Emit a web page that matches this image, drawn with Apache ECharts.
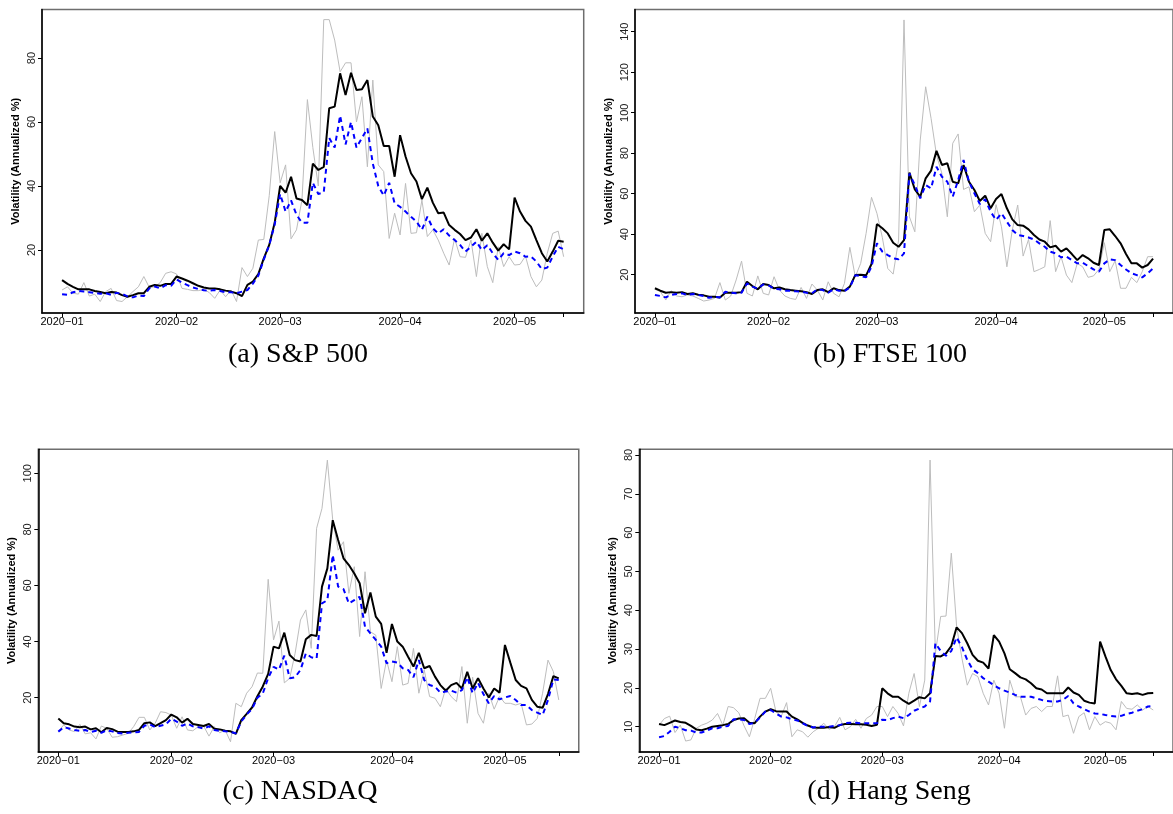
<!DOCTYPE html>
<html>
<head>
<meta charset="utf-8">
<script src="https://cdn.jsdelivr.net/npm/echarts@6/dist/echarts.min.js"></script>
<style>
html,body{margin:0;padding:0;background:#fff;}
#chart{width:1173px;height:814px;}
</style>
</head>
<body>
<div id="chart"></div>
<script>
// ---- month tick labels ----
const monthLabels = ['2020\u221201','2020\u221202','2020\u221203','2020\u221204','2020\u221205'];

// ---- (a) S&P 500 ----
const spMonthIdx = [0,21,40,62,83];
const spLastIdx = 92;
const spGray = [7.5,8.5,6.5,6.2,9.8,5.6,6.2,3.9,7.0,8.0,
 4.2,3.9,5.4,7.0,8.5,11.7,8.3,8.5,9.8,12.7,
 13.2,12.5,8.0,7.7,7.3,7.3,7.7,6.7,4.9,7.5,
 5.4,7.5,3.9,14.5,11.7,14.3,23.1,23.3,37,57,
 41,46.6,23.5,26.3,35.6,67,52,40,92,92,
 85.6,75.7,78.5,78.5,60,67.9,46,73.1,46.6,44.5,
 23.6,31.5,24.7,40.8,25.2,25.4,35.6,24.2,26.3,23.1,
 19,15.3,23.6,17.9,17.7,23.1,11.7,25.2,14.8,9.8,
 21,14.8,17.9,15.3,15.5,18.1,11.7,8.5,10.6,19,
 25.2,25.9,17.9];
const spBlack = [10.6,9.4,8.5,7.7,7.7,7.7,7.2,6.9,6.5,6.9,
 6.7,5.9,5.4,5.9,6.5,6.5,8.5,9.1,8.8,9.4,
 9.4,11.7,11.1,10.4,9.6,8.8,8.3,8.0,8.0,7.7,
 7.3,7.0,6.5,5.6,9.1,10.1,12.5,17.4,21.6,28.5,
 40,37.9,42.9,36.1,35.6,34,47,45,46,64.3,
 64.8,75.2,68.4,75.4,70,70.2,73.1,61.7,59,52.5,
 52.5,42.9,55.9,49.2,44,41.4,35.9,39.5,34.8,31.5,
 31.7,27.8,26.3,25,23.1,23.9,26.5,22.9,25.2,22.3,
 19.8,21.8,20.2,36.4,32,29.1,27.3,23.1,19,16.4,
 19.5,22.9,22.6];
const spBlue = [6.2,6.0,6.8,7.2,7.0,6.8,6.6,6.3,6.5,6.0,
 6.6,6.3,5.5,5.2,5.8,5.6,8.0,8.6,8.0,9.0,
 8.8,10.8,9.8,9.0,8.3,7.8,7.4,7.3,7.5,7.2,
 6.8,6.8,6.5,7.0,7.5,9.5,12.0,17.0,21.5,28,
 37.5,32,35.5,31,28.5,28.5,41,37.5,38,55,
 52,62,53,60,52,55,58,47,40,37,
 41,34.6,33.5,32,30.4,28.9,26.3,30.4,26.8,25.2,
 26.5,24.5,23.1,21.6,19.5,21,22.6,20,21.5,19,
 16.9,19,18.4,19.5,19,17.9,18,16.4,14,14.5,
 18,21,20.2];
const spYTicks = [20,40,60,80];

// ---- (b) FTSE 100 ----
const ftMonthIdx = [0,21,41,63,83];
const ftLastIdx = 92;
const ftGray = [12.8,11.6,7.5,12.1,9.5,9.1,10,9.5,8.3,7,
 7.5,8.3,16.1,7.5,9.5,17.4,26.7,10.8,9.5,19.4,
 10.8,10,19,12.4,9.5,8.3,7.8,13.7,8.3,15.4,
 12.4,7.5,16.5,10.8,9.1,15.7,33.5,19,25.6,40.4,
 58.2,50.3,38.4,23.1,20.3,37.1,145.8,48.6,41.2,86.5,
 112.8,97.2,79.1,70,48.6,84.9,89.5,62.1,63.4,51.1,
 54.4,40.4,36.3,54.6,43.7,23.9,42.1,54.4,29.2,37.4,
 21.5,22.6,23.9,46.7,21.5,28.9,19.8,16.1,25.6,23.9,
 18.7,19.4,22.6,35.8,21.5,26.9,13.3,13.3,18.7,16.1,
 21.5,28.9,28.9];
const ftBlack = [13.3,12.1,11.1,11.4,11.1,11.4,10.5,10.8,10.1,9.8,
 9.1,9.1,8.8,11.1,11.1,11.1,11.4,16.5,14.4,12.8,
 15.4,14.9,13.3,13.7,12.8,12.4,12.1,11.8,11.4,10.5,
 12.4,12.8,11.4,13.3,12.4,12.1,14.1,19.8,20.0,19.7,
 25.3,45,42.9,40.4,35.8,33.8,37.1,70.4,62.1,58.5,
 67.6,71.4,81.2,74.2,75,65.9,65.1,74.2,65.9,61.8,
 56.4,59,52.8,57.4,59.8,52.8,47.3,44.5,44.2,42.4,
 39.6,37.4,36.3,33.5,34.3,31.4,33,30.2,27.2,29.7,
 28.1,25.9,24.8,42.1,42.4,39.1,35.5,30.2,25.6,25.6,
 23.5,24.8,27.9];
const ftBlue = [10,9.5,8.8,10,10.5,10.8,10,10.5,10,9.5,
 8.6,9.1,8.8,11.6,11.1,10.8,11.1,15.7,14.1,13.1,
 15.2,14.7,13.1,12.8,12.1,12.1,11.8,11.6,11.1,10.8,
 12.8,12.4,11.1,12.8,12.1,11.9,13.7,19.7,19.4,18.7,
 24,35.5,31.4,29.7,28.1,27.6,30.5,70,64.3,57.7,
 64.3,62.6,73.3,68.4,65.9,58.5,66.7,76.6,65.9,60.2,
 54.9,57.2,51.1,47,50.3,46.2,42.1,39.6,39.1,38.4,
 37.4,35.5,33.8,31.4,30.5,28.6,28.9,27.2,25.6,25.9,
 24.3,22.6,21.5,25.6,27.6,27.2,24.8,22.6,20.7,19.8,
 18.7,20.7,23.1];
const ftYTicks = [20,40,60,80,100,120,140];

// ---- (c) NASDAQ ----
const ndMonthIdx = [0,21,40,62,83];
const ndLastIdx = 93;
const ndGray = [7.9,10.3,8.5,7.9,10.5,7.1,7.5,5.3,9.9,9.1,
 5.9,6.1,6.7,7.3,9.7,13,13,8.5,10.9,15,
 14.7,13.8,9.1,13.2,8.5,8.2,9.7,9.9,6.3,9.7,
 7.5,8.5,4.3,18,16.8,21.6,23.9,28.8,28.7,62.2,
 40.6,47.3,25.3,26.9,35.8,47.7,51.3,37.6,80.4,87.5,
 104.7,83.3,72.6,75.6,57.2,66.7,41.8,64.9,43.5,42.3,
 23.3,33.4,25.7,38.2,24.5,25.1,37.6,21.6,29.9,20.4,
 19.8,16.8,23.3,20.4,18.6,31.1,10.9,27.3,14.4,10.9,
 21.6,15.9,20.4,18,18,17.4,18,10.3,10.6,12.6,
 21.6,33.4,29.3,19.2];
const ndBlack = [12.6,10.9,10.5,9.7,9.5,9.7,8.7,9.1,7.7,9.2,
 8.8,7.9,7.8,7.8,8,8.5,10.9,11.2,9.9,10.9,
 12,14,13,11.1,12.5,10.6,10.3,9.9,10.6,8.9,
 8.7,8.2,8,7.1,12,14.2,16.5,20.5,24,28.5,
 38.2,37.6,43.2,35.2,33.4,32.9,40.8,42.4,42,59.6,
 66.1,83.3,76.2,69.7,67.3,64.3,60.8,50.1,57.5,48.9,
 46.3,36,46.3,40,38.2,34.6,31.1,36,30.5,31.3,
 27.5,24.5,22.5,24.5,25.3,23.3,29.2,23.3,26.9,23.3,
 20.1,23.3,21.8,38.8,32.5,26.3,24.2,23.3,19.2,16.8,
 16.4,21.3,27.7,26.9];
const ndBlue = [7.9,9.5,9,8.5,8.2,8.5,7.8,8.2,7.5,8.4,
 8,7.4,7.2,7.5,7.6,7.8,10,10.5,9.5,10,
 10.5,12.5,11.5,10,10.8,9.8,9.5,9,9.8,8.5,
 8.2,8,7.8,7.3,11.5,14,16,20,21.5,27,
 31,30,35,26.9,27.3,29.9,35.8,34.4,34,53.6,
 54.8,70.9,59.6,58.7,53.6,54.8,56,45.3,42.9,40.6,
 38.2,32.3,32.9,32.5,30.5,29.9,27.3,33.4,26.3,24.5,
 23.9,21.8,22.2,22.5,21.8,22.7,27.3,21.6,25.3,21.3,
 18,20.6,19.4,20.1,20.6,19.2,17.4,17.4,15.6,14.7,
 13.8,19.2,26.5,26.3];
const ndYTicks = [20,40,60,80,100];

// ---- (d) Hang Seng ----
const hsMonthIdx = [0,21,42,64,84];
const hsLastIdx = 93;
const hsGray = [10.4,12.1,12.7,8.5,10.4,6.3,6.6,9.6,10.4,10.9,
 11.7,13.4,10.4,15.2,14.9,13.6,10.2,7.4,12.1,17.3,
 17.3,19.9,13.9,12.7,16.2,7.4,9.2,8.7,7.3,8.7,
 9.6,10.9,9.3,10,12.4,9.2,10,11.9,9.6,12.1,
 13,15.2,15.2,12.6,15.2,13.4,10.2,18.6,23.7,15.2,
 22,78.7,28.9,38.4,38.5,54.7,35.8,27.6,20.7,23.7,
 22.9,18.6,15.6,22,18.6,9.6,22,17.7,17.7,13,
 14.7,15.2,13.9,15.2,15.2,23.1,12.6,13,8.3,12.6,
 13.6,9.2,12.6,10.4,11.3,10.9,9.2,16.5,14.7,14.5,
 15.6,14.3,15.2,14.3];
const hsBlack = [10.7,10.4,11,11.6,11.2,11,10.2,9.3,9.1,9.5,
 10,10.2,10.4,10.7,11.7,12.1,12.2,11,10.9,12.6,
 13.9,14.5,14,13.9,13.9,12.6,11.9,11,10.3,9.8,
 9.7,9.7,9.9,9.7,10.4,10.7,10.7,10.6,10.6,10.5,
 10.2,10.5,19.9,18.6,17.7,17.7,16.7,15.9,16.7,17.6,
 17.3,18.6,28.2,28.1,28.9,30.8,35.6,34.1,31.5,28.5,
 27,26.5,25,33.6,31.9,28.9,24.8,23.8,22.7,22.2,
 21.2,19.9,19.6,18.6,18.6,18.6,18.6,20.1,18.8,18.2,
 16.7,16.2,16,31.9,28.1,24.6,22.2,20.5,18.6,18.4,
 18.6,18.2,18.6,18.7];
const hsBlue = [7.3,7.6,8.7,10,9.6,9.1,9,8.5,8.5,9,
 9.6,9.6,10,10.2,11.9,11.9,11.7,10.7,11,12.4,
 13.9,14.3,13.4,12.6,12.4,11.9,11.6,10.9,10.2,9.8,
 10,10,10,10.2,10.4,10.9,11,11,10.9,10.9,
 10.9,10.9,11.8,11.7,12.2,12.6,12.2,13,14.1,14.7,
 15.2,16.5,31.5,29.5,28.3,29.5,33,30.5,27.2,24.8,
 23.8,22.5,21.6,20.7,19.9,19.3,18.8,18.2,17.7,17.7,
 17.7,17.3,16.9,16.6,16.5,16.5,16.9,17.9,16,15.2,
 14.5,13.9,13.4,13.3,13,12.8,12.6,12.8,13.3,13.6,
 14.1,14.5,15.2,15.3];
const hsYTicks = [10,20,30,40,50,60,70,80];

const captions = ['(a) S&P 500','(b) FTSE 100','(c) NASDAQ','(d) Hang Seng'];
const yTitle = 'Volatility (Annualized %)';

// ---- layout (pixels) ----
const panels = [
  {gray:spGray, black:spBlack, blue:spBlue, month:spMonthIdx, last:spLastIdx, yt:spYTicks,
   left:42, top:9.5, pitch:5.452, height:303.5, ymin:0.31, ymax:95.16, cx:298, cy:355},
  {gray:ftGray, black:ftBlack, blue:ftBlue, month:ftMonthIdx, last:ftLastIdx, yt:ftYTicks,
   left:635, top:9.5, pitch:5.44, height:303.5, ymin:1.09, ymax:150.96, cx:890, cy:355},
  {gray:ndGray, black:ndBlack, blue:ndBlue, month:ndMonthIdx, last:ndLastIdx, yt:ndYTicks,
   left:38.3, top:449.3, pitch:5.381, height:302.7, ymin:0.64, ymax:108.56, cx:300, cy:792},
  {gray:hsGray, black:hsBlack, blue:hsBlue, month:hsMonthIdx, last:hsLastIdx, yt:hsYTicks,
   left:639.3, top:449.3, pitch:5.41, height:302.7, ymin:3.48, ymax:81.47, cx:889, cy:792}
];

const grids=[], xAxes=[], yAxes=[], series=[], graphics=[];
panels.forEach((p, k) => {
  const ext = 0.04 * p.last;
  const width = (p.last + 2*ext) * p.pitch;
  grids.push({left:p.left, top:p.top, width:width, height:p.height, show:true,
    borderColor:'#6e6e6e', borderWidth:1.5, backgroundColor:'transparent', containLabel:false});
  xAxes.push({gridIndex:k, type:'value', min:-ext, max:p.last+ext,
    axisLine:{show:true, onZero:false, lineStyle:{color:'#000', width:1.5}},
    axisTick:{show:true, customValues:p.month.concat([p.last]), length:4, lineStyle:{color:'#000', width:1}},
    axisLabel:{show:true, customValues:p.month, fontSize:11, color:'#000', margin:3,
      fontFamily:'Liberation Sans, Arial, sans-serif',
      formatter:(v)=>{const j=p.month.indexOf(Math.round(v)); return j>=0?monthLabels[j]:'';}},
    splitLine:{show:false}});
  yAxes.push({gridIndex:k, type:'value', min:p.ymin, max:p.ymax,
    axisLine:{show:true, onZero:false, lineStyle:{color:'#000', width:1.5}},
    axisTick:{show:true, customValues:p.yt, length:4, lineStyle:{color:'#000', width:1}},
    axisLabel:{show:true, customValues:p.yt, rotate:90, fontSize:11, color:'#222', margin:5,
      fontFamily:'Liberation Sans, Arial, sans-serif'},
    splitLine:{show:false},
    name:yTitle, nameLocation:'middle', nameGap:21, nameRotate:90,
    nameTextStyle:{fontSize:11, fontWeight:'bold', color:'#000', fontFamily:'Liberation Sans, Arial, sans-serif'}});
  const mk = arr => arr.map((v,i)=>[i,v]);
  series.push({type:'line', xAxisIndex:k, yAxisIndex:k, data:mk(p.gray), showSymbol:false, symbol:'none',
    lineStyle:{color:'#bdbdbd', width:1}, z:1, silent:true});
  series.push({type:'line', xAxisIndex:k, yAxisIndex:k, data:mk(p.black), showSymbol:false, symbol:'none',
    lineStyle:{color:'#000', width:2}, z:2, silent:true});
  series.push({type:'line', xAxisIndex:k, yAxisIndex:k, data:mk(p.blue), showSymbol:false, symbol:'none',
    lineStyle:{color:'#0000ff', width:2, type:[5,4]}, z:3, silent:true});
  graphics.push({type:'text', x:p.cx, y:p.cy, style:{text:captions[k], fill:'#000',
    font:'28px "Liberation Serif", "Times New Roman", serif', align:'center', verticalAlign:'middle'}});
});

const chart = echarts.init(document.getElementById('chart'), null, {renderer:'canvas'});
chart.setOption({
  animation:false,
  backgroundColor:'#fff',
  grid:grids, xAxis:xAxes, yAxis:yAxes, series:series, graphic:graphics
});
</script>
</body>
</html>
